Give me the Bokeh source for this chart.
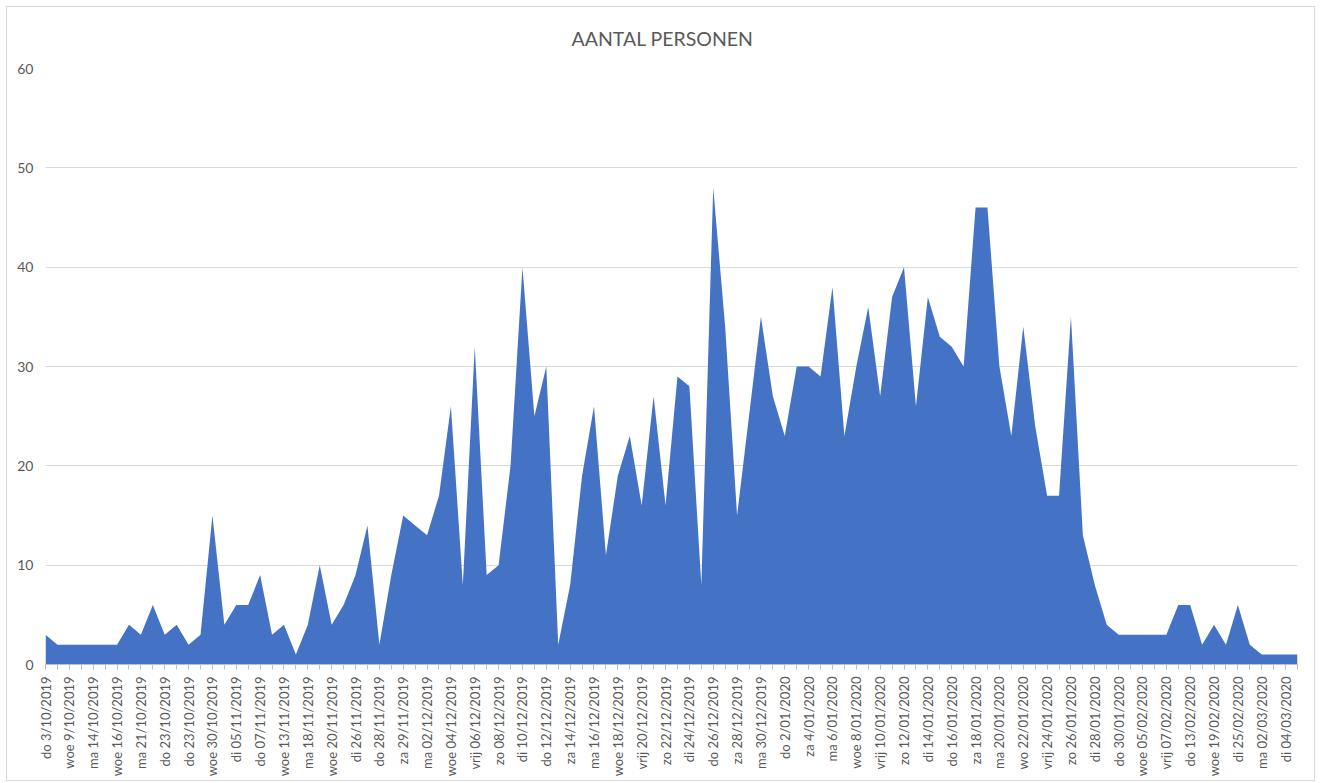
from bokeh.plotting import figure
from bokeh.models import FixedTicker, Range1d
from bokeh.embed import file_html
from bokeh.resources import INLINE
import math

tick_labels = [
    "do 3/10/2019", "woe 9/10/2019", "ma 14/10/2019", "woe 16/10/2019", "ma 21/10/2019",
    "do 23/10/2019", "do 23/10/2019", "woe 30/10/2019", "di 05/11/2019", "do 07/11/2019",
    "woe 13/11/2019", "ma 18/11/2019", "woe 20/11/2019", "di 26/11/2019", "do 28/11/2019",
    "za 29/11/2019", "ma 02/12/2019", "woe 04/12/2019", "vrij 06/12/2019", "zo 08/12/2019",
    "di 10/12/2019", "do 12/12/2019", "za 14/12/2019", "ma 16/12/2019", "woe 18/12/2019",
    "vrij 20/12/2019", "zo 22/12/2019", "di 24/12/2019", "do 26/12/2019", "za 28/12/2019",
    "ma 30/12/2019", "do 2/01/2020", "za 4/01/2020", "ma 6/01/2020", "woe 8/01/2020",
    "vrij 10/01/2020", "zo 12/01/2020", "di 14/01/2020", "do 16/01/2020", "za 18/01/2020",
    "ma 20/01/2020", "wo 22/01/2020", "vrij 24/01/2020", "zo 26/01/2020", "di 28/01/2020",
    "do 30/01/2020", "woe 05/02/2020", "vrij 07/02/2020", "do 13/02/2020", "woe 19/02/2020",
    "di 25/02/2020", "ma 02/03/2020", "di 04/03/2020",
]

personen = [
    3, 2, 2, 2, 2, 2, 2, 4, 3, 6,
    3, 4, 2, 3, 15, 4, 6, 6, 9, 3,
    4, 1, 4, 10, 4, 6, 9, 14, 2, 9,
    15, 14, 13, 17, 26, 8, 32, 9, 10, 20,
    40, 25, 30, 2, 8, 19, 26, 11, 19, 23,
    16, 27, 16, 29, 28, 8, 48, 34, 15, 25,
    35, 27, 23, 30, 30, 29, 38, 23, 30, 36,
    27, 37, 40, 26, 37, 33, 32, 30, 46, 46,
    30, 23, 34, 24, 17, 17, 35, 13, 8, 4,
    3, 3, 3, 3, 3, 6, 6, 2, 4, 2,
    6, 2, 1, 1, 1, 1,
]

x = list(range(len(personen)))
label_pos = [2 * i for i in range(len(tick_labels))]

FONT = "Lato"
GRAY = "#595959"

p = figure(width=1309, height=775, output_backend="svg", toolbar_location=None,
           x_range=Range1d(0, len(personen) - 1), y_range=Range1d(0, 60),
           min_border_left=38, min_border_right=19, min_border_top=61, min_border_bottom=118)

p.varea(x=x, y1=[0] * len(x), y2=personen, fill_color="#4472C4")

p.title.text = "AANTAL PERSONEN"
p.title.align = "left"
p.title.offset = 526
p.title.vertical_align = "top"
p.title.text_font = FONT
p.title.text_font_size = "19.5px"
p.title.text_font_style = "normal"
p.title.text_color = GRAY
p.title.standoff = 34

p.outline_line_color = None
p.styles = {"border": "1px solid #d9d9d9", "margin": "6px 0 0 6px"}

# y axis
p.yaxis.ticker = FixedTicker(ticks=[0, 10, 20, 30, 40, 50, 60])
p.yaxis.axis_line_color = None
p.yaxis.major_tick_line_color = None
p.yaxis.minor_tick_line_color = None
p.yaxis.major_tick_out = 0
p.yaxis.minor_tick_out = 0
p.yaxis.major_label_text_font = FONT
p.yaxis.major_label_text_font_size = "14px"
p.yaxis.major_label_text_color = GRAY
p.yaxis.major_label_standoff = 12

p.ygrid.grid_line_color = "#d9d9d9"
p.ygrid.grid_line_width = 1
p.xgrid.grid_line_color = None

# x axis
p.xaxis.ticker = FixedTicker(ticks=label_pos, minor_ticks=x)
p.xaxis.major_label_overrides = {pos: lab for pos, lab in zip(label_pos, tick_labels)}
p.xaxis.major_label_orientation = math.pi / 2
p.xaxis.axis_line_color = "#bfbfbf"
p.xaxis.major_tick_line_color = "#bfbfbf"
p.xaxis.minor_tick_line_color = "#bfbfbf"
p.xaxis.major_tick_in = 0
p.xaxis.major_tick_out = 5
p.xaxis.minor_tick_in = 0
p.xaxis.minor_tick_out = 5
p.xaxis.major_label_text_font = FONT
p.xaxis.major_label_text_font_size = "13px"
p.xaxis.major_label_text_color = GRAY
p.xaxis.major_label_standoff = 7

open("out.html", "w").write(file_html(p, INLINE))
